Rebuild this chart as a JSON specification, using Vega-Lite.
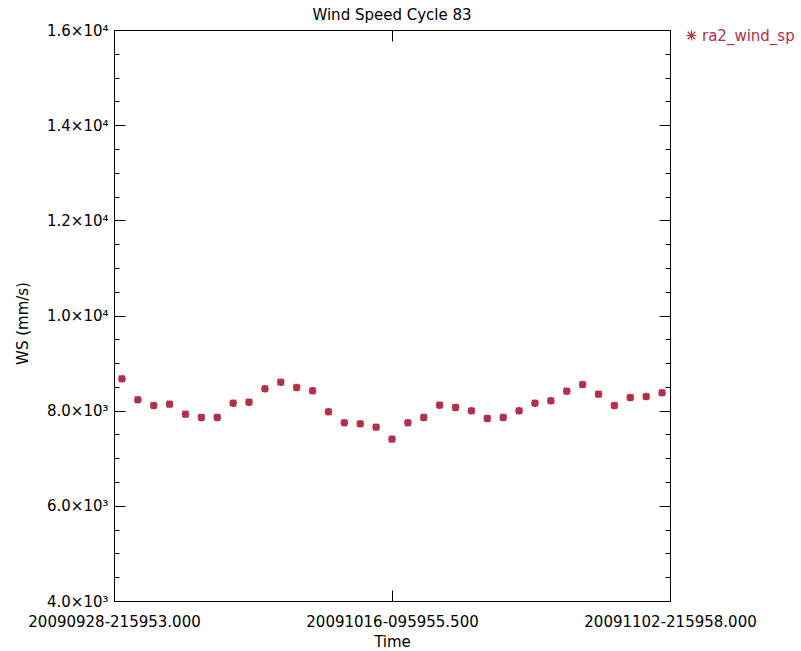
{
  "$schema": "https://vega.github.io/schema/vega-lite/v6.json",
  "autosize": "none",
  "width": 556,
  "height": 571,
  "padding": {"left": 114, "top": 30, "right": 131, "bottom": 50},
  "background": "white",
  "title": {"text": "Wind Speed Cycle 83", "font": "DejaVu Sans", "fontSize": 15, "fontWeight": "normal", "color": "black", "anchor": "middle", "offset": 0},
  "config": {
    "view": {"stroke": "black", "strokeWidth": 1},
    "axis": {"grid": false, "domainColor": "black", "tickColor": "black", "labelColor": "black", "titleColor": "black", "labelFont": "DejaVu Sans", "titleFont": "DejaVu Sans", "labelFontSize": 15, "titleFontSize": 15, "titleFontWeight": "normal", "labelOverlap": false, "labelBound": false, "labelFlush": false}
  },
  "data": {"values": [
    {"t": "2009-09-29T09:59:53Z", "ws": 8670, "series": "ra2_wind_sp"},
    {"t": "2009-09-30T09:59:53Z", "ws": 8229, "series": "ra2_wind_sp"},
    {"t": "2009-10-01T09:59:53Z", "ws": 8110, "series": "ra2_wind_sp"},
    {"t": "2009-10-02T09:59:53Z", "ws": 8137, "series": "ra2_wind_sp"},
    {"t": "2009-10-03T09:59:53Z", "ws": 7927, "series": "ra2_wind_sp"},
    {"t": "2009-10-04T09:59:53Z", "ws": 7858, "series": "ra2_wind_sp"},
    {"t": "2009-10-05T09:59:53Z", "ws": 7858, "series": "ra2_wind_sp"},
    {"t": "2009-10-06T09:59:53Z", "ws": 8158, "series": "ra2_wind_sp"},
    {"t": "2009-10-07T09:59:53Z", "ws": 8179, "series": "ra2_wind_sp"},
    {"t": "2009-10-08T09:59:53Z", "ws": 8460, "series": "ra2_wind_sp"},
    {"t": "2009-10-09T09:59:53Z", "ws": 8599, "series": "ra2_wind_sp"},
    {"t": "2009-10-10T09:59:53Z", "ws": 8488, "series": "ra2_wind_sp"},
    {"t": "2009-10-11T09:59:53Z", "ws": 8418, "series": "ra2_wind_sp"},
    {"t": "2009-10-12T09:59:53Z", "ws": 7977, "series": "ra2_wind_sp"},
    {"t": "2009-10-13T09:59:53Z", "ws": 7746, "series": "ra2_wind_sp"},
    {"t": "2009-10-14T09:59:53Z", "ws": 7725, "series": "ra2_wind_sp"},
    {"t": "2009-10-15T09:59:53Z", "ws": 7654, "series": "ra2_wind_sp"},
    {"t": "2009-10-16T09:59:53Z", "ws": 7402, "series": "ra2_wind_sp"},
    {"t": "2009-10-17T09:59:53Z", "ws": 7746, "series": "ra2_wind_sp"},
    {"t": "2009-10-18T09:59:53Z", "ws": 7858, "series": "ra2_wind_sp"},
    {"t": "2009-10-19T09:59:53Z", "ws": 8116, "series": "ra2_wind_sp"},
    {"t": "2009-10-20T09:59:53Z", "ws": 8068, "series": "ra2_wind_sp"},
    {"t": "2009-10-21T09:59:53Z", "ws": 7998, "series": "ra2_wind_sp"},
    {"t": "2009-10-22T09:59:53Z", "ws": 7837, "series": "ra2_wind_sp"},
    {"t": "2009-10-23T09:59:53Z", "ws": 7858, "series": "ra2_wind_sp"},
    {"t": "2009-10-24T09:59:53Z", "ws": 7998, "series": "ra2_wind_sp"},
    {"t": "2009-10-25T09:59:53Z", "ws": 8158, "series": "ra2_wind_sp"},
    {"t": "2009-10-26T09:59:53Z", "ws": 8208, "series": "ra2_wind_sp"},
    {"t": "2009-10-27T09:59:53Z", "ws": 8410, "series": "ra2_wind_sp"},
    {"t": "2009-10-28T09:59:53Z", "ws": 8551, "series": "ra2_wind_sp"},
    {"t": "2009-10-29T09:59:53Z", "ws": 8347, "series": "ra2_wind_sp"},
    {"t": "2009-10-30T09:59:53Z", "ws": 8110, "series": "ra2_wind_sp"},
    {"t": "2009-10-31T09:59:53Z", "ws": 8278, "series": "ra2_wind_sp"},
    {"t": "2009-11-01T09:59:53Z", "ws": 8299, "series": "ra2_wind_sp"},
    {"t": "2009-11-02T09:59:53Z", "ws": 8376, "series": "ra2_wind_sp"}
  ]},
  "layer": [
    {
      "mark": {"type": "point", "shape": "M-1,0L1,0M0,-1L0,1M-0.8,-0.8L0.8,0.8M-0.8,0.8L0.8,-0.8", "filled": false, "size": 56, "strokeWidth": 2.3, "opacity": 1},
      "encoding": {
        "x": {"field": "t", "type": "temporal",
          "scale": {"type": "utc", "domain": [{"year": 2009, "month": 9, "date": 28, "hours": 21, "minutes": 59, "seconds": 53, "utc": true}, {"year": 2009, "month": 11, "date": 2, "hours": 21, "minutes": 59, "seconds": 58, "utc": true}]},
          "axis": {"orient": "bottom", "title": "Time", "titlePadding": 5,
            "values": [{"year": 2009, "month": 9, "date": 28, "hours": 21, "minutes": 59, "seconds": 53, "utc": true}, {"year": 2009, "month": 10, "date": 16, "hours": 9, "minutes": 59, "seconds": 55, "milliseconds": 500, "utc": true}, {"year": 2009, "month": 11, "date": 2, "hours": 21, "minutes": 59, "seconds": 58, "utc": true}],
            "labelExpr": "utcFormat(datum.value, '%Y%m%d-%H%M%S.%L')",
            "tickSize": -11, "labelPadding": 24}},
        "y": {"field": "ws", "type": "quantitative",
          "scale": {"domain": [4000, 16000], "nice": false, "zero": false},
          "axis": {"orient": "left", "title": "WS (mm/s)", "titlePadding": 16, "titleY": 293,
            "values": [4000, 4500, 5000, 5500, 6000, 6500, 7000, 7500, 8000, 8500, 9000, 9500, 10000, 10500, 11000, 11500, 12000, 12500, 13000, 13500, 14000, 14500, 15000, 15500, 16000],
            "labelExpr": "datum.value % 2000 === 0 ? (datum.value >= 10000 ? format(datum.value / 10000, '.1f') + '×10⁴' : format(datum.value / 1000, '.1f') + '×10³') : ''",
            "tickSize": {"condition": {"test": "datum.value % 2000 === 0", "value": -11}, "value": -5},
            "labelPadding": 17}},
        "color": {"field": "series", "type": "nominal",
          "scale": {"domain": ["ra2_wind_sp"], "range": ["#b03048"]},
          "legend": {"orient": "none", "legendX": 570, "legendY": -2, "title": null, "padding": 0,
            "symbolType": "M-1,0L1,0M0,-1L0,1M-0.75,-0.75L0.75,0.75M-0.75,0.75L0.75,-0.75", "symbolSize": 100, "symbolStrokeWidth": 1.2, "symbolFillColor": "transparent",
            "labelColor": "#b03048", "labelFont": "DejaVu Sans", "labelFontSize": 15, "labelOffset": 3, "labelLimit": 0}}
      }
    },
    {
      "mark": {"type": "point", "opacity": 0},
      "encoding": {
        "x": {"field": "t", "type": "temporal",
          "axis": {"orient": "top", "title": null, "labels": false,
            "values": [{"year": 2009, "month": 10, "date": 16, "hours": 9, "minutes": 59, "seconds": 55, "milliseconds": 500, "utc": true}],
            "tickSize": -11}},
        "y": {"field": "ws", "type": "quantitative",
          "axis": {"orient": "right", "title": null, "labels": false,
            "values": [4000, 4500, 5000, 5500, 6000, 6500, 7000, 7500, 8000, 8500, 9000, 9500, 10000, 10500, 11000, 11500, 12000, 12500, 13000, 13500, 14000, 14500, 15000, 15500, 16000],
            "tickSize": {"condition": {"test": "datum.value % 2000 === 0", "value": -11}, "value": -5}}}
      }
    }
  ],
  "resolve": {"axis": {"x": "independent", "y": "independent"}}
}
